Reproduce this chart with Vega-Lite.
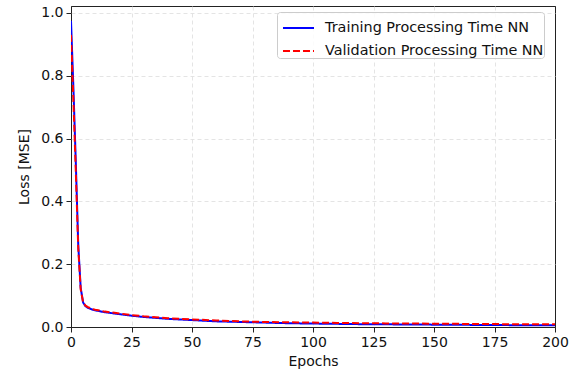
{
  "$schema": "https://vega.github.io/schema/vega-lite/v6.json",
  "width": 484,
  "height": 321,
  "autosize": {"type": "none"},
  "padding": {"left": 71, "top": 6, "right": 24, "bottom": 48},
  "background": "white",
  "config": {
    "font": "DejaVu Sans",
    "view": {"stroke": "#222", "strokeWidth": 1},
    "axis": {
      "labelFont": "DejaVu Sans", "labelFontSize": 14, "labelColor": "#111",
      "titleFont": "DejaVu Sans", "titleFontSize": 14, "titleFontWeight": "normal", "titleColor": "#111",
      "tickColor": "#222", "tickSize": 5, "tickWidth": 1, "domain": false,
      "grid": true, "gridWidth": 0.8,
      "labelPadding": 3, "labelFlush": false
    },
    "legend": {
      "labelFont": "DejaVu Sans", "labelFontSize": 14.4, "labelColor": "#111", "labelLimit": 0
    }
  },
  "data": {
    "values": [
      {"epoch": 0, "loss": 0.975, "series": "Training Processing Time NN"},
      {"epoch": 1, "loss": 0.76, "series": "Training Processing Time NN"},
      {"epoch": 2, "loss": 0.52, "series": "Training Processing Time NN"},
      {"epoch": 3, "loss": 0.26, "series": "Training Processing Time NN"},
      {"epoch": 4, "loss": 0.125, "series": "Training Processing Time NN"},
      {"epoch": 5, "loss": 0.078, "series": "Training Processing Time NN"},
      {"epoch": 6, "loss": 0.066, "series": "Training Processing Time NN"},
      {"epoch": 7, "loss": 0.061, "series": "Training Processing Time NN"},
      {"epoch": 8, "loss": 0.058, "series": "Training Processing Time NN"},
      {"epoch": 9, "loss": 0.055, "series": "Training Processing Time NN"},
      {"epoch": 10, "loss": 0.053, "series": "Training Processing Time NN"},
      {"epoch": 12, "loss": 0.05, "series": "Training Processing Time NN"},
      {"epoch": 14, "loss": 0.047, "series": "Training Processing Time NN"},
      {"epoch": 16, "loss": 0.045, "series": "Training Processing Time NN"},
      {"epoch": 18, "loss": 0.043, "series": "Training Processing Time NN"},
      {"epoch": 20, "loss": 0.041, "series": "Training Processing Time NN"},
      {"epoch": 25, "loss": 0.036, "series": "Training Processing Time NN"},
      {"epoch": 30, "loss": 0.032, "series": "Training Processing Time NN"},
      {"epoch": 35, "loss": 0.029, "series": "Training Processing Time NN"},
      {"epoch": 40, "loss": 0.026, "series": "Training Processing Time NN"},
      {"epoch": 45, "loss": 0.024, "series": "Training Processing Time NN"},
      {"epoch": 50, "loss": 0.022, "series": "Training Processing Time NN"},
      {"epoch": 60, "loss": 0.018, "series": "Training Processing Time NN"},
      {"epoch": 70, "loss": 0.016, "series": "Training Processing Time NN"},
      {"epoch": 80, "loss": 0.014, "series": "Training Processing Time NN"},
      {"epoch": 90, "loss": 0.012, "series": "Training Processing Time NN"},
      {"epoch": 100, "loss": 0.011, "series": "Training Processing Time NN"},
      {"epoch": 110, "loss": 0.01, "series": "Training Processing Time NN"},
      {"epoch": 120, "loss": 0.009, "series": "Training Processing Time NN"},
      {"epoch": 130, "loss": 0.0085, "series": "Training Processing Time NN"},
      {"epoch": 140, "loss": 0.008, "series": "Training Processing Time NN"},
      {"epoch": 150, "loss": 0.0075, "series": "Training Processing Time NN"},
      {"epoch": 160, "loss": 0.007, "series": "Training Processing Time NN"},
      {"epoch": 170, "loss": 0.0065, "series": "Training Processing Time NN"},
      {"epoch": 180, "loss": 0.006, "series": "Training Processing Time NN"},
      {"epoch": 190, "loss": 0.0057, "series": "Training Processing Time NN"},
      {"epoch": 200, "loss": 0.0055, "series": "Training Processing Time NN"},
      {"epoch": 0, "loss": 0.93, "series": "Validation Processing Time NN"},
      {"epoch": 1, "loss": 0.72, "series": "Validation Processing Time NN"},
      {"epoch": 2, "loss": 0.49, "series": "Validation Processing Time NN"},
      {"epoch": 3, "loss": 0.25, "series": "Validation Processing Time NN"},
      {"epoch": 4, "loss": 0.12, "series": "Validation Processing Time NN"},
      {"epoch": 5, "loss": 0.079, "series": "Validation Processing Time NN"},
      {"epoch": 6, "loss": 0.068, "series": "Validation Processing Time NN"},
      {"epoch": 7, "loss": 0.063, "series": "Validation Processing Time NN"},
      {"epoch": 8, "loss": 0.06, "series": "Validation Processing Time NN"},
      {"epoch": 9, "loss": 0.057, "series": "Validation Processing Time NN"},
      {"epoch": 10, "loss": 0.055, "series": "Validation Processing Time NN"},
      {"epoch": 12, "loss": 0.052, "series": "Validation Processing Time NN"},
      {"epoch": 14, "loss": 0.049, "series": "Validation Processing Time NN"},
      {"epoch": 16, "loss": 0.047, "series": "Validation Processing Time NN"},
      {"epoch": 18, "loss": 0.045, "series": "Validation Processing Time NN"},
      {"epoch": 20, "loss": 0.043, "series": "Validation Processing Time NN"},
      {"epoch": 25, "loss": 0.038, "series": "Validation Processing Time NN"},
      {"epoch": 30, "loss": 0.034, "series": "Validation Processing Time NN"},
      {"epoch": 35, "loss": 0.031, "series": "Validation Processing Time NN"},
      {"epoch": 40, "loss": 0.028, "series": "Validation Processing Time NN"},
      {"epoch": 45, "loss": 0.026, "series": "Validation Processing Time NN"},
      {"epoch": 50, "loss": 0.024, "series": "Validation Processing Time NN"},
      {"epoch": 60, "loss": 0.021, "series": "Validation Processing Time NN"},
      {"epoch": 70, "loss": 0.018, "series": "Validation Processing Time NN"},
      {"epoch": 80, "loss": 0.016, "series": "Validation Processing Time NN"},
      {"epoch": 90, "loss": 0.015, "series": "Validation Processing Time NN"},
      {"epoch": 100, "loss": 0.014, "series": "Validation Processing Time NN"},
      {"epoch": 110, "loss": 0.013, "series": "Validation Processing Time NN"},
      {"epoch": 120, "loss": 0.012, "series": "Validation Processing Time NN"},
      {"epoch": 130, "loss": 0.0115, "series": "Validation Processing Time NN"},
      {"epoch": 140, "loss": 0.011, "series": "Validation Processing Time NN"},
      {"epoch": 150, "loss": 0.0105, "series": "Validation Processing Time NN"},
      {"epoch": 160, "loss": 0.01, "series": "Validation Processing Time NN"},
      {"epoch": 170, "loss": 0.0095, "series": "Validation Processing Time NN"},
      {"epoch": 180, "loss": 0.009, "series": "Validation Processing Time NN"},
      {"epoch": 190, "loss": 0.009, "series": "Validation Processing Time NN"},
      {"epoch": 200, "loss": 0.0085, "series": "Validation Processing Time NN"}
    ]
  },
  "mark": {"type": "line", "strokeWidth": 2, "clip": true},
  "encoding": {
    "x": {
      "field": "epoch", "type": "quantitative", "title": "Epochs",
      "scale": {"domain": [0, 200], "nice": false, "zero": false},
      "axis": {
        "values": [0, 25, 50, 75, 100, 125, 150, 175, 200], "titlePadding": 5,
        "gridColor": {"condition": {"test": "datum.value == 0 || datum.value == 200", "value": "#222"}, "value": "#dddddd"},
        "gridDash": {"condition": {"test": "datum.value == 0 || datum.value == 200", "value": [1, 0]}, "value": [4, 3]},
        "gridWidth": {"condition": {"test": "datum.value == 0 || datum.value == 200", "value": 1}, "value": 0.8}
      }
    },
    "y": {
      "field": "loss", "type": "quantitative", "title": "Loss [MSE]",
      "scale": {"domain": [0, 1.022], "nice": false},
      "axis": {
        "values": [0, 0.2, 0.4, 0.6, 0.8, 1.0], "format": ".1f", "titlePadding": 9,
        "gridColor": {"condition": {"test": "datum.value == 0", "value": "#222"}, "value": "#dddddd"},
        "gridDash": {"condition": {"test": "datum.value == 0", "value": [1, 0]}, "value": [4, 3]},
        "gridWidth": {"condition": {"test": "datum.value == 0", "value": 1}, "value": 0.8}
      }
    },
    "color": {
      "field": "series", "type": "nominal",
      "scale": {"domain": ["Training Processing Time NN", "Validation Processing Time NN"], "range": ["#0000ff", "#ff0000"]},
      "legend": {
        "title": null, "orient": "none", "legendX": 206, "legendY": 6,
        "symbolType": "M-0.667,0H1.4", "symbolSize": 900, "symbolStrokeWidth": 2,
        "padding": 0, "rowPadding": -9, "labelOffset": 16,
        "fillColor": "rgba(255,255,255,0.85)", "strokeColor": "#cccccc", "cornerRadius": 3
      }
    },
    "strokeDash": {
      "field": "series", "type": "nominal",
      "scale": {"domain": ["Training Processing Time NN", "Validation Processing Time NN"], "range": [[1, 0], [7, 3]]},
      "legend": null
    }
  }
}
